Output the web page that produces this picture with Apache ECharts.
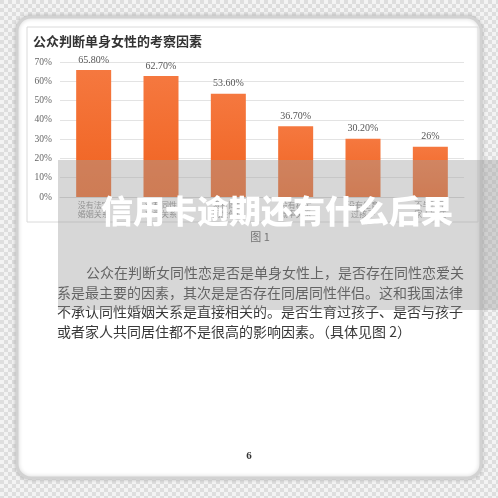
<!DOCTYPE html>
<html><head><meta charset="utf-8">
<script src="https://cdn.jsdelivr.net/npm/echarts@6/dist/echarts.min.js"></script>
<style>html,body{margin:0;padding:0;}#c{width:498px;height:498px;}</style>
</head><body><div id="c"></div>
<script>
const categories = ["没有法定\n婚姻关系", "没有同性\n恋爱关系", "没有同居\n同性伴侣", "没有稳定\n概率关系", "没有生育\n过孩子", "不与孩子\n家人同住"];
const values = [65.8, 62.7, 53.6, 36.7, 30.2, 26];
const valueLabels = ["65.80%", "62.70%", "53.60%", "36.70%", "30.20%", "26%"];
const yTicks = [0, 10, 20, 30, 40, 50, 60, 70];
const chartTitle = "公众判断单身女性的考察因素";
const watermark = "信用卡逾期还有什么后果";
const caption = "图 1";
const paragraph = [
  "公众在判断女同性恋是否是单身女性上，是否存在同性恋爱关",
  "系是最主要的因素，其次是是否存在同居同性伴侣。这和我国法律",
  "不承认同性婚姻关系是直接相关的。是否生育过孩子、是否与孩子",
  "或者家人共同居住都不是很高的影响因素。（具体见图 2）"
];
const pageNo = "6";

const pc = document.createElement('canvas');
pc.width = 8; pc.height = 8;
const g = pc.getContext('2d');
g.fillStyle = '#f3f3f3'; g.fillRect(0,0,8,8);
g.fillStyle = '#dedede'; g.fillRect(0,0,4,4); g.fillRect(4,4,4,4);

const chart = echarts.init(document.getElementById('c'));
const serif = '"Liberation Serif","DejaVu Serif","Noto Sans CJK SC",serif';
const cjk = '"Noto Sans CJK SC",sans-serif';

const paraEls = paragraph.map((t, i) => ({
  type: 'text', z: 10,
  style: { text: t, x: i === 0 ? 86 : 57, y: [273, 293, 312, 332][i], fill: '#383838',
    font: '14px ' + cjk, textVerticalAlign: 'middle', textAlign: 'left' }
}));

chart.setOption({
  backgroundColor: { image: pc, repeat: 'repeat' },
  animation: false,
  grid: { left: 60, right: 34, top: 62, bottom: 301 },
  xAxis: {
    type: 'category', data: categories,
    axisLine: { lineStyle: { color: '#d6d6d6' } },
    axisTick: { show: false },
    axisLabel: { interval: 0, fontSize: 8, color: '#8a8a8a', lineHeight: 9, margin: 3, fontFamily: cjk }
  },
  yAxis: {
    type: 'value', min: 0, max: 70, interval: 10,
    axisLabel: { formatter: '{value}%', fontSize: 9.5, color: '#666', margin: 8, fontFamily: serif },
    axisLine: { show: false }, axisTick: { show: false },
    splitLine: { lineStyle: { color: '#e3e3e3' } }
  },
  series: [{
    type: 'bar', data: values, barWidth: 35,
    itemStyle: { color: new echarts.graphic.LinearGradient(0,0,0,1,[{offset:0,color:'#f5783f'},{offset:1,color:'#f0621f'}]) },
    label: { show: true, position: 'top', distance: 5, fontSize: 10, color: '#555', fontFamily: serif,
      formatter: p => valueLabels[p.dataIndex] }
  }],
  graphic: [
    { type: 'rect', z: -2, shape: { x: 17, y: 17, width: 464, height: 461, r: 14 },
      style: { fill: '#ffffff', stroke: '#d2d2d2', lineWidth: 3, shadowBlur: 4, shadowColor: 'rgba(0,0,0,0.18)' } },
    { type: 'rect', z: -1, shape: { x: 27, y: 27, width: 451, height: 195 },
      style: { fill: 'none', stroke: '#dadada', lineWidth: 1 } },
    { type: 'text', z: 10, style: { text: chartTitle, x: 33, y: 41, fill: '#333',
      font: 'bold 13px ' + cjk, textVerticalAlign: 'middle' } },
    { type: 'text', z: 10, style: { text: caption, x: 260, y: 237, fill: '#555',
      font: '11px ' + cjk, textAlign: 'center', textVerticalAlign: 'middle' } },
    ...paraEls,
    { type: 'text', z: 10, style: { text: pageNo, x: 249, y: 456, fill: '#333',
      font: 'bold 11px ' + serif, textAlign: 'center', textVerticalAlign: 'middle' } },
    { type: 'rect', z: 50, shape: { x: 58, y: 160, width: 440, height: 150 },
      style: { fill: 'rgba(160,160,160,0.42)' } },
    { type: 'text', z: 51, style: { text: watermark, x: 277, y: 211, fill: '#ffffff',
      font: '900 32px ' + cjk, textAlign: 'center', textVerticalAlign: 'middle' } }
  ]
});
</script></body></html>
